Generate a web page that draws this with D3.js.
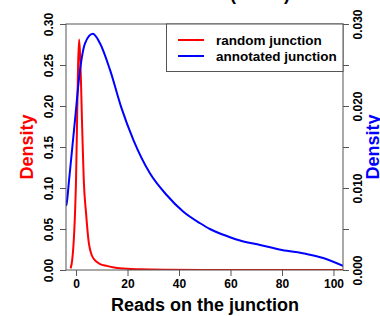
<!DOCTYPE html>
<html><head><meta charset="utf-8">
<script src="https://cdn.jsdelivr.net/npm/d3@7"></script>
<style>body{margin:0;background:#fff}svg{display:block}text{font-family:"Liberation Sans",Arial,sans-serif;font-weight:bold}</style>
</head><body>
<svg id="c" width="380" height="316"></svg>
<script>
// random junction density (left axis)
const randomX = [-2.1,-1.5,-1.05,-0.4,0,0.5,0.8,1.2,1.6,1.9,2.3,2.6,3.0,3.9,4.8,6.1,8,9.3,12,17,25,35,50,70,100,103.7];
const randomY = [0.002,0.012,0.028,0.069,0.11,0.2,0.25,0.281,0.26,0.232,0.183,0.15,0.11,0.069,0.037,0.018,0.010,0.0073,0.005,0.002,0.0008,0.0003,0.0001,0.00005,0.00002,0.00002];
// annotated junction density (right axis)
const annotX = [-3.9,-3.6,-2.7,-0.4,1.55,3.5,6.5,9.3,13.2,17.5,22.3,28.7,35.2,41.7,48.2,52,55.9,59.8,63.7,71.5,80,89.6,96,103.7];
const annotY = [0.0078,0.0082,0.011,0.0183,0.0244,0.02765,0.0288,0.02765,0.0244,0.0199,0.01585,0.0118,0.00915,0.0071,0.0057,0.0050,0.00445,0.0040,0.0036,0.00305,0.00244,0.00195,0.00146,0.0005];
const xTicks = [0,20,40,60,80,100];
const leftTicks = [0,0.05,0.10,0.15,0.20,0.25,0.30];
const rightTicks = [0,0.005,0.010,0.015,0.020,0.025,0.030];
const rightLabels = ["0.000","","0.010","","0.020","","0.030"];
const seriesNames = ["random junction","annotated junction"];
const seriesColors = ["#ff0000","#0000ff"];

const svg = d3.select("#c");
const L=66,R=343,T=24,B=270;
const x = d3.scaleLinear().domain([-3.9,103.7]).range([L,R]);
const yL = d3.scaleLinear().domain([0,0.30]).range([B,T]);
const yR = d3.scaleLinear().domain([0,0.030]).range([B,T]);
const axisCol = "#555";

svg.append("defs").append("clipPath").attr("id","clip").append("rect")
  .attr("x",L).attr("y",T).attr("width",R-L).attr("height",B-T);

const g = svg.append("g").attr("clip-path","url(#clip)");
const line1 = d3.line().x(d=>x(d[0])).y(d=>yL(d[1])).curve(d3.curveMonotoneX);
const line2 = d3.line().x(d=>x(d[0])).y(d=>yR(d[1])).curve(d3.curveMonotoneX);
g.append("path").datum(randomX.map((v,i)=>[v,randomY[i]])).attr("d",line1)
  .attr("fill","none").attr("stroke",seriesColors[0]).attr("stroke-width",2);
g.append("path").datum(annotX.map((v,i)=>[v,annotY[i]])).attr("d",line2)
  .attr("fill","none").attr("stroke",seriesColors[1]).attr("stroke-width",2);

// box
svg.append("rect").attr("x",L).attr("y",T).attr("width",R-L).attr("height",B-T)
  .attr("fill","none").attr("stroke",axisCol).attr("stroke-width",1);

function style(sel){
  sel.select(".domain").remove();
  sel.selectAll("line").attr("stroke",axisCol);
  sel.selectAll("text").attr("fill","#000").style("font-size","12px");
}
const ax = svg.append("g").attr("transform",`translate(0,${B})`)
  .call(d3.axisBottom(x).tickValues(xTicks).tickSize(6).tickFormat(d3.format("d")));
style(ax);
ax.selectAll("text").attr("y",18).attr("dy",0);

const al = svg.append("g").attr("transform",`translate(${L},0)`)
  .call(d3.axisLeft(yL).tickValues(leftTicks).tickSize(6).tickFormat(d3.format(".2f")));
style(al);
al.selectAll("text").attr("transform","rotate(-90)").attr("text-anchor","middle")
  .attr("x",0).attr("y",-13).attr("dy",0);

const ar = svg.append("g").attr("transform",`translate(${R},0)`)
  .call(d3.axisRight(yR).tickValues(rightTicks).tickSize(6).tickFormat((d,i)=>rightLabels[i]));
style(ar);
ar.selectAll("text").attr("transform","rotate(-90)").attr("text-anchor","middle")
  .attr("x",0).attr("y",19).attr("dy",0);

// axis titles
svg.append("text").attr("transform","translate(33,147) rotate(-90)").attr("text-anchor","middle")
  .attr("fill","#ff0000").style("font-size","18px").text("Density");
svg.append("text").attr("transform","translate(379,147) rotate(-90)").attr("text-anchor","middle")
  .attr("fill","#0000ff").style("font-size","18px").text("Density");
svg.append("text").attr("x",205).attr("y",311).attr("text-anchor","middle")
  .attr("fill","#000").style("font-size","18px").text("Reads on the junction");
// title (cut off at the top edge in the reference)
svg.append("text").attr("x",260).attr("y",0).attr("text-anchor","middle")
  .attr("fill","#000").style("font-size","18px").text("(reads)");

// legend
const lg = svg.append("g");
lg.append("rect").attr("x",166.5).attr("y",T).attr("width",R-166.5).attr("height",47.5)
  .attr("fill","#fff").attr("stroke",axisCol).attr("stroke-width",1);
seriesNames.forEach((n,i)=>{
  const yy = 40 + i*16;
  lg.append("line").attr("x1",178).attr("x2",204).attr("y1",yy).attr("y2",yy)
    .attr("stroke",seriesColors[i]).attr("stroke-width",2);
  lg.append("text").attr("x",216).attr("y",yy+4.5).attr("fill","#000")
    .style("font-size","13.5px").text(n);
});
</script>
</body></html>
